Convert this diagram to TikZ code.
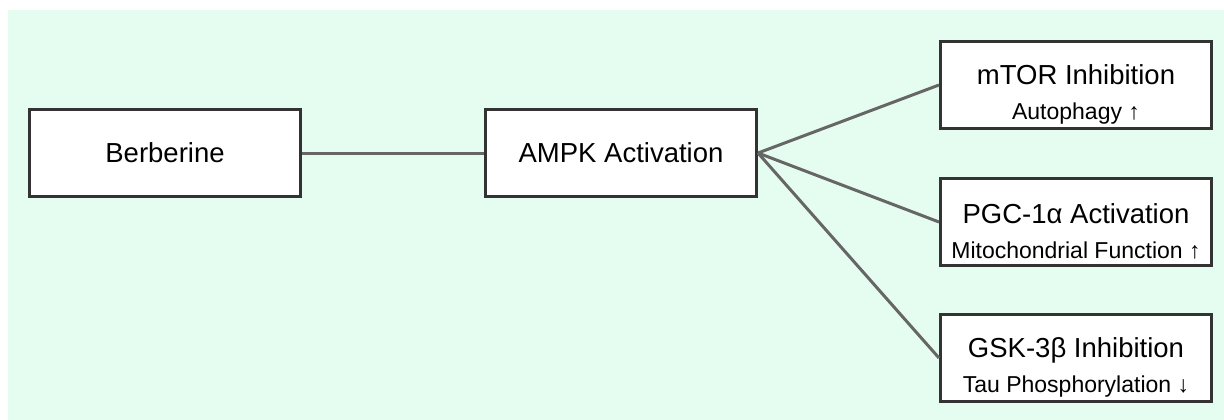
\documentclass[tikz,border=0pt]{standalone}
\usepackage{fontspec}
\setmainfont{Liberation Sans}
\usepackage{tikz}
\usetikzlibrary{positioning}

\definecolor{mintbg}{HTML}{E5FDF1}
\definecolor{boxline}{HTML}{333333}
\definecolor{linkgray}{HTML}{666666}

\newcommand{\subtext}[1]{{\fontsize{23}{26}\selectfont #1}}
% title on top, effect line under it
\newcommand{\effect}[2]{\rule{0pt}{38pt}#1\\[3pt]\subtext{#2}}

\begin{document}
\begin{tikzpicture}[x=1pt, y=1pt,
        box/.style={draw=boxline, fill=white, line width=3pt, minimum width=271pt,
                    minimum height=87pt, align=center, font=\fontsize{27.5}{32}\selectfont},
        link/.style={draw=linkgray, line width=3pt}
    ]
        \useasboundingbox (0,0) rectangle (1224,-420);
        \fill[mintbg] (8,-10) rectangle (1224,-420);

        % left chain
        \node[box] (berb) at (165,-153) {Berberine};
        \node[box] (ampk) at (621,-153) {AMPK Activation};

        % downstream targets
        \node[box] (mtor) at (1076,-85) {\effect{mTOR Inhibition}{Autophagy ↑}};
        \node[box] (pgc) at (1076,-222) {\effect{PGC-1α Activation}{Mitochondrial Function ↑}};
        \node[box] (gsk) at (1076,-358) {\effect{GSK-3β Inhibition}{Tau Phosphorylation ↓}};

        \draw[link] (berb) -- (ampk);
        \draw[link] (ampk.east) -- (mtor.west);
        \draw[link] (ampk.east) -- (pgc.west);
        \draw[link] (ampk.east) -- (gsk.west);
    \end{tikzpicture}
\end{document}
